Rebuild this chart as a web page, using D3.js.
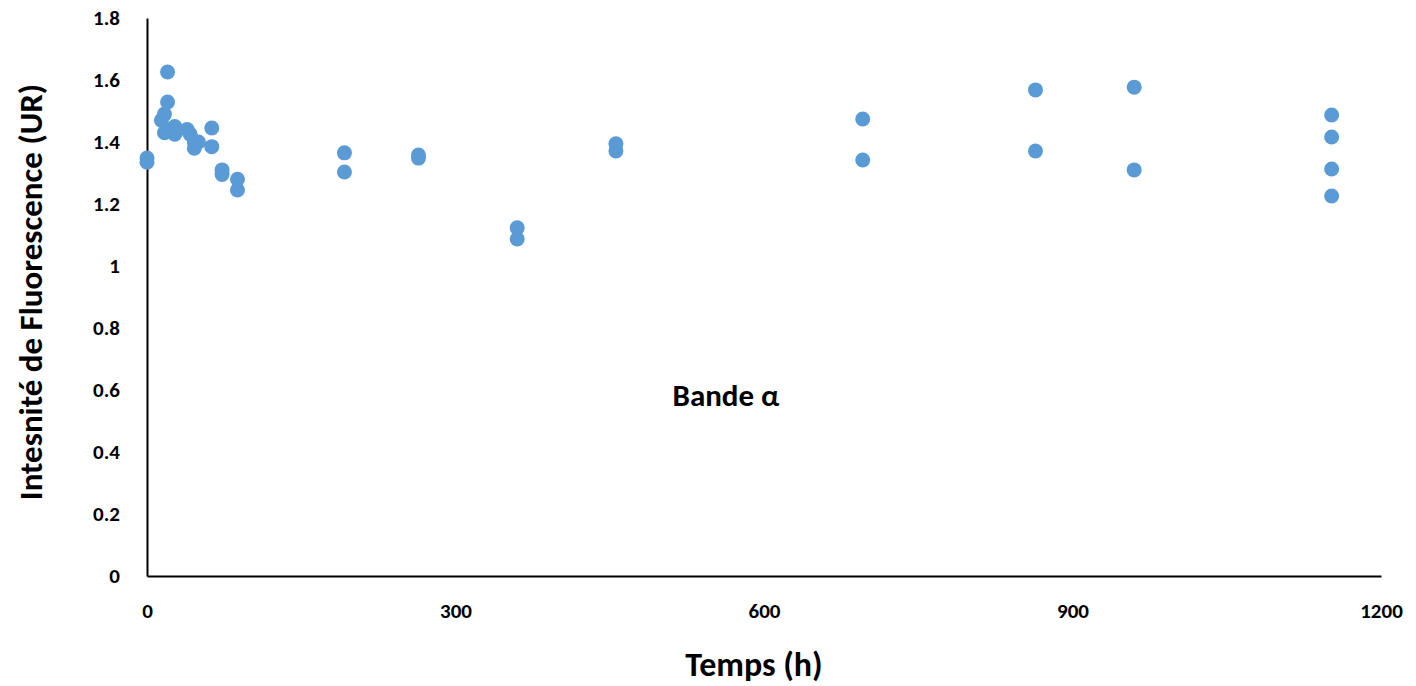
<!DOCTYPE html>
<html>
<head>
<meta charset="utf-8">
<script src="https://cdn.jsdelivr.net/npm/d3@7"></script>
<style>
  body { margin: 0; background: #fff; }
  svg text { font-family: Carlito, Lato, "Open Sans", sans-serif; font-weight: bold; fill: #000; }
</style>
</head>
<body>
<div id="chart"></div>
<script>
// time (h) and fluorescence intensity (UR)
const hours = [0, 0, 14, 17, 17, 20, 20, 24, 27, 27, 39, 42, 46, 46, 50, 63, 63, 73, 73, 88, 88,
  192, 192, 264, 264, 360, 360, 456, 456, 696, 696, 864, 864, 960, 960, 1152, 1152, 1152, 1152];
const intensity = [1.348, 1.335, 1.47, 1.49, 1.43, 1.626, 1.529, 1.44, 1.45, 1.425, 1.44, 1.425, 1.40, 1.38, 1.40, 1.445, 1.385, 1.31, 1.295, 1.28, 1.245,
  1.365, 1.303, 1.358, 1.348, 1.123, 1.087, 1.394, 1.371, 1.474, 1.342, 1.568, 1.371, 1.577, 1.31, 1.487, 1.416, 1.313, 1.226];
const xTicks = [0, 300, 600, 900, 1200];
const yTicks = [0, 0.2, 0.4, 0.6, 0.8, 1, 1.2, 1.4, 1.6, 1.8];

const width = 1416, height = 686;
const points = hours.map((h, i) => ({ t: h, v: intensity[i] }));

let svg = d3.select("#chart").append("svg")
    .attr("width", width)
    .attr("height", height);

let x = d3.scaleLinear().domain([0, 1200]).range([147, 1381]);
let y = d3.scaleLinear().domain([0, 1.8]).range([576, 18]);

// axes without tick marks, just the lines and labels
let xAxis = svg.append("g")
    .attr("transform", "translate(0,576)")
    .call(d3.axisBottom(x).tickValues(xTicks).tickSize(0).tickPadding(27).tickFormat(d3.format("d")));
xAxis.select(".domain").attr("stroke", "#000").attr("stroke-width", 2);
xAxis.selectAll("text").style("font-size", "21px");

let yAxis = svg.append("g")
    .attr("transform", "translate(147,0)")
    .call(d3.axisLeft(y).tickValues(yTicks).tickSize(0).tickPadding(27).tickFormat(d => String(d)));
yAxis.select(".domain").attr("stroke", "#000").attr("stroke-width", 2);
yAxis.selectAll("text").style("font-size", "21px");

svg.append("g").selectAll("circle")
    .data(points)
    .enter()
    .append("circle")
      .attr("cx", d => x(d.t))
      .attr("cy", d => y(d.v))
      .attr("r", 7.5)
      .attr("fill", "#5b9bd5");

svg.append("text")
    .attr("x", 754).attr("y", 676)
    .attr("text-anchor", "middle")
    .style("font-size", "34px")
    .text("Temps (h)");

svg.append("text")
    .attr("transform", "translate(42,292) rotate(-90)")
    .attr("text-anchor", "middle")
    .style("font-size", "33px")
    .text("Intesnité de Fluorescence (UR)");

svg.append("text")
    .attr("x", 726).attr("y", 406)
    .attr("text-anchor", "middle")
    .style("font-size", "31px")
    .text("Bande α");
</script>
</body>
</html>
